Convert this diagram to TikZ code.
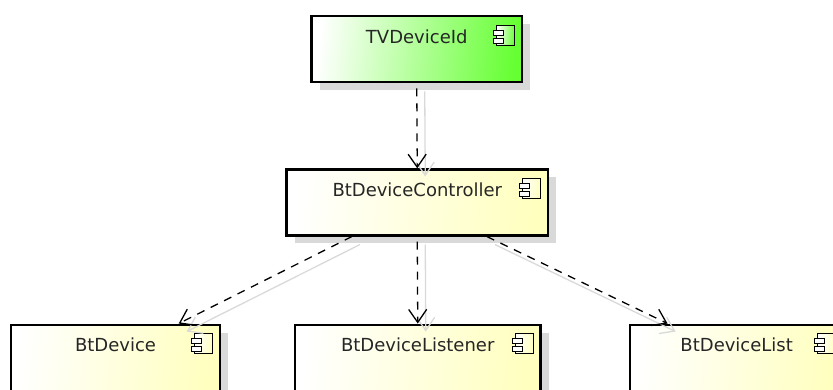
\documentclass[tikz,border=0pt]{standalone}
\usepackage{fontspec}
\setmainfont{DejaVu Sans}
\definecolor{tvgreen}{RGB}{102, 255, 51}
\definecolor{btyellow}{RGB}{255, 255, 190}
\usetikzlibrary{arrows.meta}
\usetikzlibrary{positioning}
\usetikzlibrary{shadows}
\tikzset{
  component/.style={
    draw=black, line width=2.2pt, inner sep=0,
    minimum height=66pt, text height=27pt, text depth=39pt,
    font=\fontsize{18pt}{20pt}\selectfont, text=black!85,
    top color=white, bottom color=#1, shading angle=84,
    drop shadow={shadow xshift=8pt, shadow yshift=-8pt, fill=black!15, opacity=1}
  },
  arrow/.style={-{Straight Barb[length=13pt, width=18pt]}, dash pattern=on 8pt off 7pt, line width=1.3pt},
  shadowarrow/.style={-{Straight Barb[length=13pt, width=18pt]}, line width=1.3pt, black!15},
  pics/compicon/.style={code={
    \draw [line width=1.1pt, top color=white, bottom color=#1, shading angle=84] (-18,0) rectangle (0,-20);
    \draw [line width=1.1pt, fill=white] (-21,-5) rectangle (-11,-10);
    \draw [line width=1.1pt, fill=white] (-21,-13) rectangle (-11,-18);
  }}
}
\begin{document}
\begin{tikzpicture}[x=1pt, y=1pt]
      \useasboundingbox (0,0) rectangle (833,-389);

      \node (tvid) [component=tvgreen, minimum width=210.5pt] at (416.75,-49.25) {TVDeviceId};
      \node (ctrl) [component=btyellow, minimum width=261.5pt, below=85pt of tvid, xshift=0.5pt] {BtDeviceController};
      \node (listener) [component=btyellow, minimum width=245.5pt, below=87pt of ctrl, xshift=0.5pt] {BtDeviceListener};
      \node (device) [component=btyellow, minimum width=209.5pt, left=72.5pt of listener] {BtDevice};
      \node (devlist) [component=btyellow, minimum width=213pt, right=87.5pt of listener] {BtDeviceList};

      \pic at ([shift={(-8.5,-10)}]tvid.north east) {compicon=tvgreen};
      \pic at ([shift={(-8.5,-10)}]ctrl.north east) {compicon=btyellow};
      \pic at ([shift={(-8.5,-10)}]device.north east) {compicon=btyellow};
      \pic at ([shift={(-8.5,-10)}]listener.north east) {compicon=btyellow};
      \pic at ([shift={(-8.5,-10)}]devlist.north east) {compicon=btyellow};

      \coordinate (ctrlleft) at ([xshift=66.5pt]ctrl.south west);
      \coordinate (ctrlright) at ([xshift=201.5pt]ctrl.south west);
      \coordinate (deviceend) at ([xshift=169pt]device.north west);
      \coordinate (devlistend) at ([xshift=38.5pt]devlist.north west);

      \draw [shadowarrow] ([shift={(8pt,-8pt)}]tvid.south) -- ([shift={(8pt,-8pt)}]ctrl.north);
      \draw [shadowarrow] ([shift={(8pt,-8pt)}]ctrlleft) -- ([shift={(8pt,-8pt)}]deviceend);
      \draw [shadowarrow] ([shift={(8pt,-8pt)}]ctrl.south) -- ([shift={(8pt,-8pt)}]listener.north);
      \draw [shadowarrow] ([shift={(8pt,-8pt)}]ctrlright) -- ([shift={(8pt,-8pt)}]devlistend);

      \draw [arrow, dash phase=10pt] (tvid.south) -- (ctrl.north);
      \draw [arrow] (ctrlleft) -- (deviceend);
      \draw [arrow, dash phase=10pt] (ctrl.south) -- (listener.north);
      \draw [arrow] (ctrlright) -- (devlistend);
\end{tikzpicture}
\end{document}
